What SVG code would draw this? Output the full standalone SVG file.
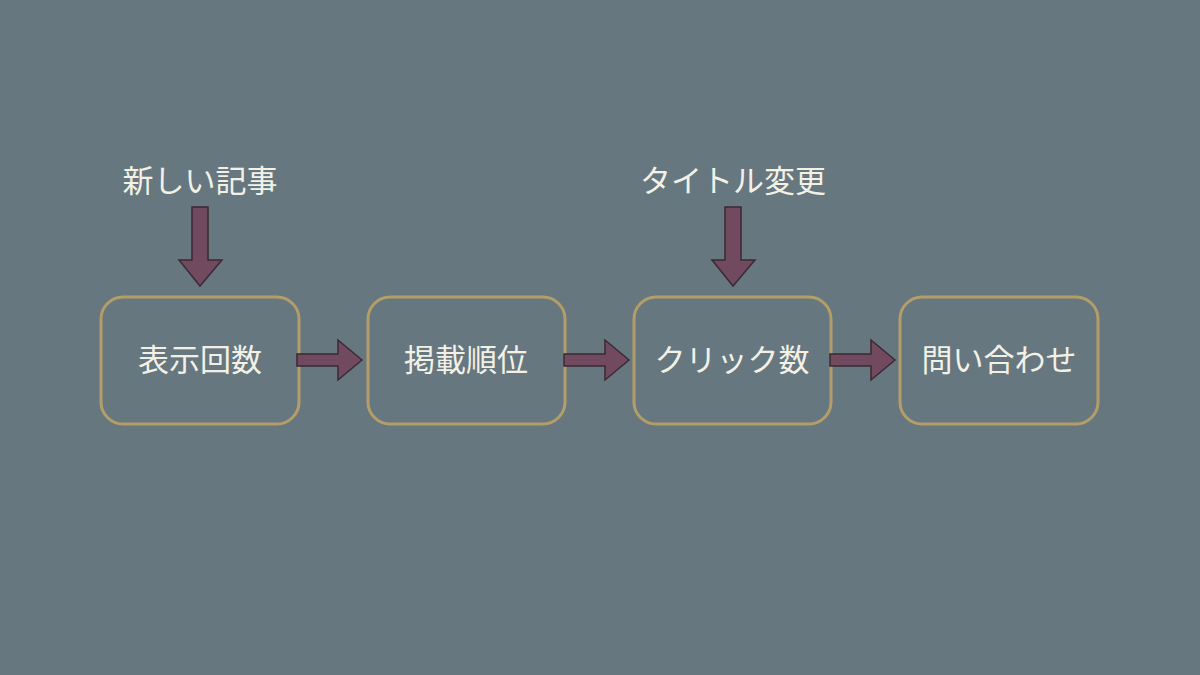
<svg xmlns="http://www.w3.org/2000/svg" width="1200" height="675" viewBox="0 0 1200 675">
<style>
.box2{fill:none;stroke:#b39d69;stroke-width:3}
.t{font-family:"Noto Sans CJK JP",sans-serif;font-size:31px;fill:#f3f1e6;text-anchor:middle}
.a{fill:#714a5f;stroke:#3a2a33;stroke-width:1.5}
</style>
<rect width="1200" height="675" fill="#66777f"/>
<g id="n1"><rect class="box2" x="101" y="297" width="198" height="127" rx="22"/><text class="t" x="200" y="371">表示回数</text></g>
<g id="n2"><rect class="box2" x="368" y="297" width="197" height="127" rx="22"/><text class="t" x="466" y="371">掲載順位</text></g>
<g id="n3"><rect class="box2" x="634" y="297" width="197" height="127" rx="22"/><text class="t" x="732" y="371">クリック数</text></g>
<g id="n4"><rect class="box2" x="900" y="297" width="198" height="127" rx="22"/><text class="t" x="999" y="371">問い合わせ</text></g>
<g id="l1"><text class="t" x="200" y="192">新しい記事</text></g>
<g id="l2"><text class="t" x="733" y="192">タイトル変更</text></g>
<g id="connectors">
<polygon class="a" points="192,207 208,207 208,260 222,260 200,286 179,260 192,260"/>
<polygon class="a" points="725,207 741,207 741,260 755,260 733,286 712,260 725,260"/>
<polygon class="a" points="297,354 338,354 338,340 362,360 338,380 338,366 297,366"/>
<polygon class="a" points="564,354 605,354 605,340 629,360 605,380 605,366 564,366"/>
<polygon class="a" points="830,354 871,354 871,340 895,360 871,380 871,366 830,366"/>
</g>
</svg>
